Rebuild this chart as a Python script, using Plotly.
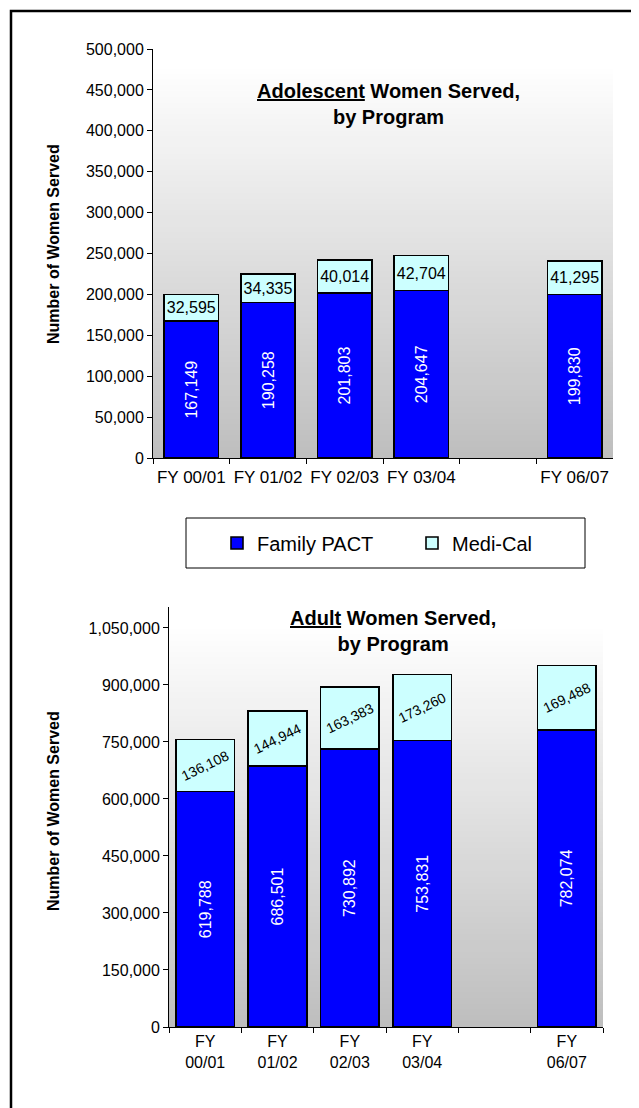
import plotly.graph_objects as go

# ---------------- data ----------------
categories = ["FY 00/01", "FY 01/02", "FY 02/03", "FY 03/04", " ", "FY 06/07"]
adol_family_pact = [167149, 190258, 201803, 204647, None, 199830]
adol_medi_cal = [32595, 34335, 40014, 42704, None, 41295]
adult_family_pact = [619788, 686501, 730892, 753831, None, 782074]
adult_medi_cal = [136108, 144944, 163383, 173260, None, 169488]
series_names = ["Family PACT", "Medi-Cal"]
adult_tick_text = [c.replace(" ", "<br>") if c.strip() else " " for c in categories]

# page body has an 8px margin, so the figure is shifted by 8px
OFF = 8
FW, FH = 631, 1100
FONT = "Liberation Sans, Arial, sans-serif"
BLUE = "#0000FF"
CYAN = "#CCFFFF"


def px_x(p):
    return (p - OFF) / FW


def px_y(p):
    return 1 - (p - OFF) / FH


fig = go.Figure()

# top chart (adolescent)
fig.add_trace(go.Bar(
    x=categories, y=adol_family_pact, name=series_names[0], xaxis="x", yaxis="y",
    width=0.71, marker=dict(color=BLUE, line=dict(color="black", width=1.6)),
    texttemplate="%{y:,}", textposition="inside", insidetextanchor="middle",
    textangle=-90, textfont=dict(color="white", size=16, family=FONT),
    constraintext="none", legendrank=1))
fig.add_trace(go.Bar(
    x=categories, y=adol_medi_cal, name=series_names[1], xaxis="x", yaxis="y",
    width=0.71, marker=dict(color=CYAN, line=dict(color="black", width=1.6)),
    texttemplate="%{y:,}", textposition="inside", insidetextanchor="middle",
    textangle=0, textfont=dict(color="black", size=16, family=FONT),
    constraintext="none", legendrank=2))

# bottom chart (adult)
fig.add_trace(go.Bar(
    x=categories, y=adult_family_pact, name=series_names[0], xaxis="x2", yaxis="y2",
    width=0.81, marker=dict(color=BLUE, line=dict(color="black", width=1.6)),
    texttemplate="%{y:,}", textposition="inside", insidetextanchor="middle",
    textangle=-90, textfont=dict(color="white", size=16, family=FONT),
    constraintext="none", showlegend=False))
fig.add_trace(go.Bar(
    x=categories, y=adult_medi_cal, name=series_names[1], xaxis="x2", yaxis="y2",
    width=0.81, marker=dict(color=CYAN, line=dict(color="black", width=1.6)),
    texttemplate="%{y:,}", textposition="inside", insidetextanchor="middle",
    textangle=-26, textfont=dict(color="black", size=14, family=FONT),
    constraintext="none", showlegend=False))

# gradient backgrounds (style only)
shapes = []


def gradient(xref, yref, top_frac, n=70):
    out = []
    for i in range(n):
        f0 = i / n * top_frac
        f1 = (i + 1) / n * top_frac
        t = (i + 0.5) / n
        g = int(round(0xBE + (0xFF - 0xBE) * t))
        col = f"rgb({g},{g},{g})"
        out.append(dict(type="rect", xref=xref, yref=yref, x0=0, x1=1, y0=f0, y1=f1 + 0.002,
                        fillcolor=col, line=dict(width=0), layer="below"))
    return out


shapes += gradient("x domain", "y domain", 0.966)
shapes += gradient("x2 domain", "y2 domain", 0.962)

# page border
shapes.append(dict(type="rect", xref="paper", yref="paper",
                   x0=px_x(11), x1=px_x(660), y0=px_y(1130), y1=px_y(11),
                   line=dict(color="black", width=2.5), fillcolor="rgba(0,0,0,0)"))
# legend box
shapes.append(dict(type="rect", xref="paper", yref="paper",
                   x0=px_x(186), x1=px_x(585), y0=px_y(568), y1=px_y(518),
                   line=dict(color="black", width=1), fillcolor="white"))

annotations = [
    dict(text="<b><u>Adolescent</u> Women Served,<br>by Program</b>", xref="paper", yref="paper",
         x=px_x(388), y=px_y(104), showarrow=False, font=dict(size=20, family=FONT, color="black"),
         xanchor="center", yanchor="middle"),
    dict(text="<b><u>Adult</u> Women Served,<br>by Program</b>", xref="paper", yref="paper",
         x=px_x(393), y=px_y(631), showarrow=False, font=dict(size=20, family=FONT, color="black"),
         xanchor="center", yanchor="middle"),
    dict(text="<b>Number of Women Served</b>", xref="paper", yref="paper",
         x=px_x(53), y=px_y(244), textangle=-90, showarrow=False,
         font=dict(size=16, family=FONT, color="black"), xanchor="center", yanchor="middle"),
    dict(text="<b>Number of Women Served</b>", xref="paper", yref="paper",
         x=px_x(53), y=px_y(811), textangle=-90, showarrow=False,
         font=dict(size=16, family=FONT, color="black"), xanchor="center", yanchor="middle"),
]

axis_common = dict(showline=True, linecolor="black", linewidth=1, ticks="outside",
                   ticklen=5, tickcolor="black", showgrid=False, zeroline=False,
                   automargin=False)
tick16 = dict(size=16, family=FONT, color="black")

fig.update_layout(
    width=FW, height=FH, autosize=False,
    margin=dict(l=0, r=0, t=0, b=0, pad=0),
    template="none",
    paper_bgcolor="white", plot_bgcolor="white",
    barmode="stack",
    font=dict(family=FONT, color="black"),
    xaxis=dict(domain=[px_x(153), px_x(613)], anchor="y", type="category",
               categoryorder="array", categoryarray=categories,
               tickson="boundaries", ticklabelstandoff=4, tickangle=0,
               tickfont=dict(size=17, family=FONT, color="black"), **axis_common),
    yaxis=dict(domain=[px_y(458), px_y(49)], anchor="x", range=[0, 500000],
               dtick=50000, tickformat=",", tickfont=tick16, **axis_common),
    xaxis2=dict(domain=[px_x(169), px_x(603)], anchor="y2", type="category",
                categoryorder="array", categoryarray=categories,
                tickmode="array", tickvals=categories, ticktext=adult_tick_text,
                tickson="boundaries", tickangle=0, tickfont=tick16, **axis_common),
    yaxis2=dict(domain=[px_y(1027), px_y(607)], anchor="x2", range=[0, 1105000],
                dtick=150000, tickformat=",", tickfont=tick16, **axis_common),
    shapes=shapes,
    annotations=annotations,
    showlegend=True,
    legend=dict(orientation="h", x=px_x(412), y=px_y(543), xanchor="center", yanchor="middle",
                bgcolor="rgba(0,0,0,0)", borderwidth=0,
                font=dict(size=20, family=FONT, color="black"),
                itemwidth=30, entrywidth=150, entrywidthmode="pixels", traceorder="normal"),
)

fig.write_html("out.html")
